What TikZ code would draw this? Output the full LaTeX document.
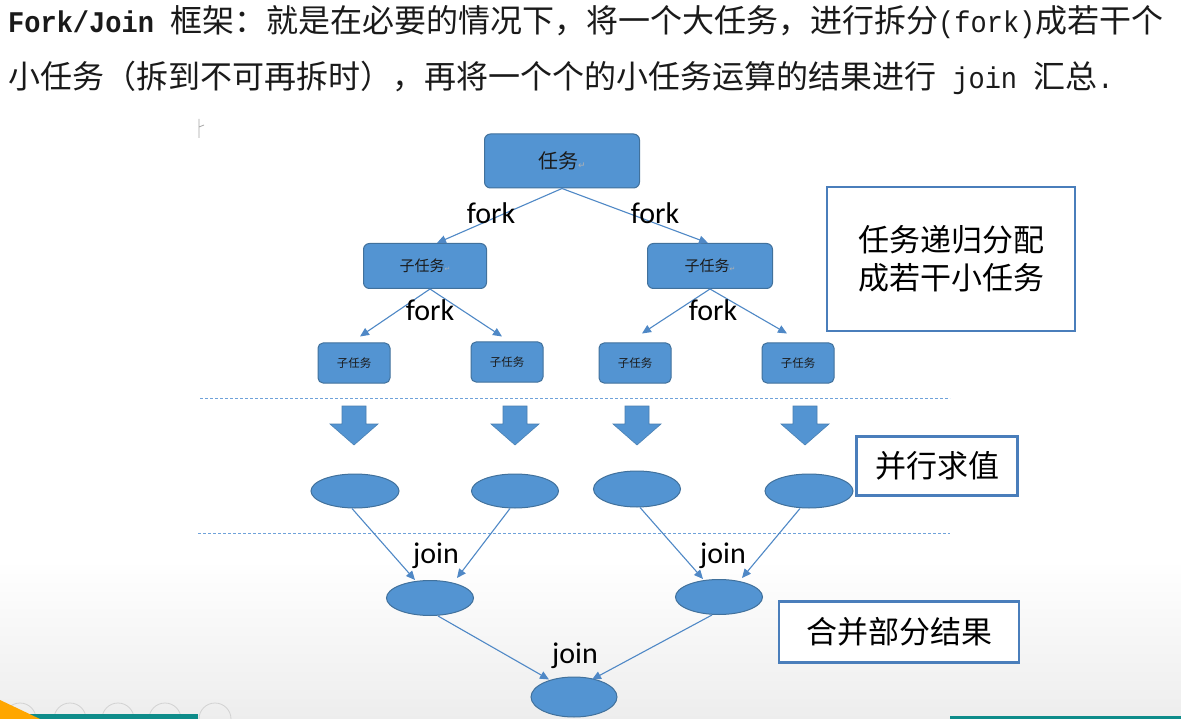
\documentclass[tikz,border=0pt]{standalone}
\usepackage{fontspec}
\usetikzlibrary{arrows.meta,shapes.geometric}
\newfontfamily\cjk{Noto Sans CJK SC}
\newfontfamily\hmono[FakeStretch=0.9]{Liberation Mono}
\newfontfamily\lat{Carlito}
\newfontfamily\dvs{DejaVu Sans}
\definecolor{shapefill}{HTML}{5394D2}
\definecolor{shapeedge}{HTML}{41719C}
\definecolor{linkblue}{HTML}{4F88C6}
\definecolor{boxedge}{HTML}{4A7EBB}
\definecolor{dashblue}{HTML}{6FA2DA}
\definecolor{barteal}{HTML}{0E8C8A}
\definecolor{txtdark}{HTML}{1A1A1A}
\begin{document}
\begin{tikzpicture}[x=1pt,y=-1pt,
  task/.style={draw=shapeedge, line width=1pt, fill=shapefill, rounded corners=6pt, inner sep=0pt, text=txtdark},
  res/.style={ellipse, draw=shapeedge, line width=1pt, fill=shapefill, inner sep=0pt},
  link/.style={draw=linkblue, line width=1.1pt, -{Triangle[length=9pt,width=8pt]}},
  note/.style={draw=boxedge, line width=2.5pt, fill=white, font=\cjk\fontsize{31}{38}\selectfont, align=center, inner sep=0pt},
  lbl/.style={font=\lat\fontsize{30}{32}\selectfont, inner sep=0pt},
  sepline/.style={draw=dashblue, line width=1pt, dash pattern=on 3pt off 2pt},
  blockarrow/.style={fill=shapefill, draw=shapeedge!60!shapefill, line width=0.6pt}
]
\useasboundingbox (0,0) rectangle (1181,719);
\fill[white] (0,0) rectangle (1181,719);
\shade[top color=white, bottom color=black!7] (0,560) rectangle (1181,719);

% header text
\node[anchor=west, inner sep=0pt, font=\cjk\fontsize{32}{36}\selectfont, text=txtdark] (h1) at (8,22)
  {{\hmono\fontsize{30}{36}\selectfont\bfseries Fork/Join }框架：就是在必要的情况下，将一个大任务，进行拆分{\hmono\fontsize{30}{36}\selectfont (fork)}成若干个};
\node[anchor=west, inner sep=0pt, font=\cjk\fontsize{32}{36}\selectfont, text=txtdark] (h2) at (8,78)
  {小任务（拆到不可再拆时），再将一个个的小任务运算的结果进行{\hmono\fontsize{30}{36}\selectfont{} join }汇总{\hmono\fontsize{30}{36}\selectfont .}};
\draw[gray!70, line width=0.8pt] (199,119) -- (199,138) (199,127) -- (204,125);

% task boxes
\node[task, minimum width=155pt, minimum height=54pt, font=\cjk\fontsize{20}{22}\selectfont] (root) at (562,161) {任务{\dvs\fontsize{9}{9}\selectfont\color{gray!60}↵}};
\node[task, minimum width=123pt, minimum height=45pt, font=\cjk\fontsize{15}{17}\selectfont] (subL) at (425,266) {子任务{\dvs\fontsize{7}{7}\selectfont\color{gray!60}↵}};
\node[task, minimum width=125pt, minimum height=45pt, font=\cjk\fontsize{15}{17}\selectfont] (subR) at (710,266) {子任务{\dvs\fontsize{7}{7}\selectfont\color{gray!60}↵}};
\node[task, rounded corners=5pt, minimum width=72pt, minimum height=40pt, font=\cjk\fontsize{11.5}{13}\selectfont] (l1) at (354,363) {子任务};
\node[task, rounded corners=5pt, minimum width=72pt, minimum height=40pt, font=\cjk\fontsize{11.5}{13}\selectfont] (l2) at (507,362) {子任务};
\node[task, rounded corners=5pt, minimum width=72pt, minimum height=40pt, font=\cjk\fontsize{11.5}{13}\selectfont] (l3) at (635,363) {子任务};
\node[task, rounded corners=5pt, minimum width=72pt, minimum height=40pt, font=\cjk\fontsize{11.5}{13}\selectfont] (l4) at (798,363) {子任务};

% fork arrows
\draw[link] (root.south) -- ([xshift=12pt]subL.north);
\draw[link] (root.south) -- ([xshift=-2pt]subR.north);
\draw[link] ([xshift=5pt]subL.south) -- ([xshift=6pt,yshift=6pt]l1.north);
\draw[link] ([xshift=5pt]subL.south) -- ([xshift=-5pt,yshift=5pt]l2.north);
\draw[link] (subR.south) -- ([xshift=7pt,yshift=9pt]l3.north);
\draw[link] (subR.south) -- ([xshift=-11pt,yshift=9pt]l4.north);
\node[lbl] (f1) at (491,213) {fork};
\node[lbl] (f2) at (655,213) {fork};
\node[lbl] (f3) at (430,310) {fork};
\node[lbl] (f4) at (713,310) {fork};

% separators
\draw[sepline] (200,398) -- (950,398);
\draw[sepline] (198,533) -- (950,533);

% block arrows
\foreach \cx in {354,515,637,805}{
  \draw[blockarrow] (\cx-12,406) -- (\cx+12,406) -- (\cx+12,424) -- (\cx+24,424) -- (\cx,445) -- (\cx-24,424) -- (\cx-12,424) -- cycle;
}

% result ellipses
\node[res, minimum width=88pt, minimum height=34pt] (e1) at (355,491) {};
\node[res, minimum width=87pt, minimum height=34pt] (e2) at (515,491) {};
\node[res, minimum width=87pt, minimum height=36pt] (e3) at (637,489) {};
\node[res, minimum width=88pt, minimum height=34pt] (e4) at (809,491) {};
\node[res, minimum width=87pt, minimum height=35pt] (jL) at (430,598) {};
\node[res, minimum width=87pt, minimum height=35pt] (jR) at (719,597) {};
\node[res, minimum width=86pt, minimum height=40pt] (bot) at (574,697) {};

% join arrows
\draw[link] ([xshift=-3pt]e1.south) -- ([xshift=-15pt]jL.north);
\draw[link] ([xshift=-5pt]e2.south) -- ([xshift=27pt,yshift=2pt]jL.north);
\draw[link] ([xshift=3pt]e3.south) -- ([xshift=-16pt]jR.north);
\draw[link] ([xshift=-9pt]e4.south) -- ([xshift=23pt,yshift=1pt]jR.north);
\draw[link] ([xshift=8pt]jL.south) -- ([xshift=-25pt,yshift=-3pt]bot.north);
\draw[link] ([xshift=-7pt]jR.south) -- ([xshift=18pt,yshift=-3pt]bot.north);
\node[lbl] (j1) at (436,556) {join};
\node[lbl] (j2) at (723,556) {join};
\node[lbl] (j3) at (575,656) {join};

% notes
\node[note, minimum width=248pt, minimum height=144pt] (n1) at (951,259) {任务递归分配\\成若干小任务};
\node[note, minimum width=161pt, minimum height=59pt] (n2) at (937,466) {并行求值};
\node[note, minimum width=240pt, minimum height=61pt] (n3) at (899,632) {合并部分结果};

% bottom decoration
\begin{scope}
\clip (0,0) rectangle (1181,719);
\foreach \cx in {20,70,118,165,215}{\draw[gray!35, line width=0.8pt] (\cx,719) circle[radius=16];}
\fill[barteal] (0,714) rectangle (198,719);
\fill[orange!70!yellow] (0,700) -- (40,719) -- (0,719) -- cycle;
\fill[barteal] (950,716) rectangle (1181,719);
\end{scope}
\end{tikzpicture}
\end{document}
